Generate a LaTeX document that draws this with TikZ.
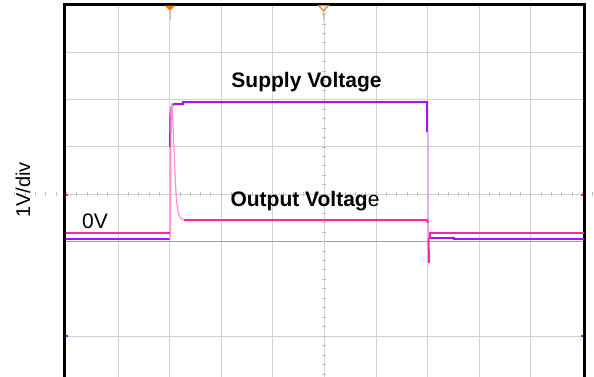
\documentclass[tikz,border=0pt]{standalone}
\usepackage{fontspec}
\setmainfont{Liberation Sans}
\begin{document}
\begin{tikzpicture}[x=1pt,y=-1pt,
  grid/.style={draw=black!18,line width=1pt},
  darkgrid/.style={draw=black!38,line width=1pt},
  tickm/.style={draw=black!25,line width=0.8pt},
  supply/.style={draw=supcol,line width=2pt},
  supplylt/.style={draw=supcol!35,line width=1.4pt},
  outp/.style={draw=outcol,line width=2pt},
  outplt/.style={draw=outcol!50,line width=1.2pt},
  lbl/.style={inner sep=0pt,font=\fontsize{21}{25}\selectfont\bfseries},
  reg/.style={inner sep=0pt,font=\fontsize{21}{25}\selectfont},
  frame/.style={draw=black,line width=3pt},
  marker/.style={fill=orange!90!red,draw=none}
]
\definecolor{supcol}{RGB}{160,20,250}
\definecolor{outcol}{RGB}{255,40,150}
\useasboundingbox (0,0) rectangle (594,376);
\fill[white] (0,0) rectangle (594,376);
\begin{scope}
\clip (0,0) rectangle (594,376);
% grid
\foreach \x in {118,169.6,221.2,272.8,324.4,376,427.6,479.2,530.8}
  \draw[grid] (\x,5) -- (\x,380);
\foreach \y in {52.3,99.6,146.9,194.2,336.1}
  \draw[grid] (65,\y) -- (583,\y);
\draw[darkgrid] (65,241.5) -- (583,241.5);
% axis ticks
\foreach \i in {-30,...,30}
  \draw[tickm] (324.4+\i*10.32,192.2) -- (324.4+\i*10.32,196.2);
\foreach \i in {-20,...,20}
  \draw[tickm] (322.4,194.2+\i*9.46) -- (326.4,194.2+\i*9.46);
% frame
\draw[frame] (64,400) -- (64,4.3) -- (584,4.3) -- (584,400);
\end{scope}
% markers
\fill[marker] (165,5.5) -- (175,5.5) -- (170,11) -- cycle;
\draw[orange!90!red,line width=1pt] (318.5,5.5) -- (328.5,5.5) -- (323.5,11) -- cycle;
\draw[black!25,line width=0.8pt] (170,11) -- (170,20);
\draw[black!25,line width=0.8pt] (323.5,11) -- (323.5,20);
\fill[outcol] (66,193.5) rectangle (68,195.5);
\fill[supcol] (66,335) rectangle (68,337);
\fill[outcol] (581,193.5) rectangle (583,195.5);
\fill[supcol] (581,335) rectangle (583,337);
% supply trace
\draw[supply] (66,239) -- (170,239);
\draw[supplylt] (170,239) -- (170,147);
\draw[supply] (170,147) -- (170.5,116) .. controls (171,108) and (172,104) .. (174,104) -- (183,104) -- (183,102) -- (427,102) -- (427,132);
\draw[supplylt] (428,132) -- (428,237);
\draw[supply] (429,237.5) -- (454,237.5) -- (454,239) -- (584,239);
% output trace
\draw[outp] (66,232.7) -- (170,232.7);
\draw[outplt] (170.5,232.7) -- (171,110) -- (172,103)
  .. controls (174.5,150) and (175,205) .. (179,215)
  .. controls (180.5,219) and (182,220) .. (186,220);
\draw[outp] (184,220) -- (427,220) -- (428,223);
\draw[outplt] (428,223) -- (428.5,238);
\draw[outp] (428.5,238) -- (429,263);
\draw[outp] (430,238) -- (430,232.7) -- (584,232.7);
% labels
\node[lbl,anchor=base] (supplylbl) at (306.5,87) {Supply Voltage};
\node[anchor=base,inner sep=0pt] (outlbl) at (305,206) {\fontsize{21}{25}\selectfont\textbf{Output Voltag}e};
\node[reg,anchor=base west] (zerov) at (82,228) {0V};
\node[inner sep=0pt,rotate=90,font=\fontsize{20}{24}\selectfont] (ylabel) at (23,190) {1V/div};
\end{tikzpicture}
\end{document}
